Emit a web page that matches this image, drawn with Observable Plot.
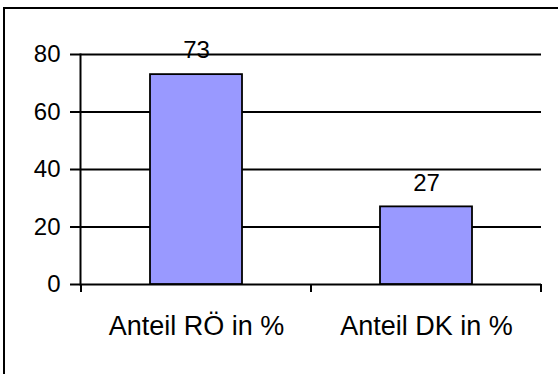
<!DOCTYPE html>
<html>
<head>
<meta charset="utf-8">
<script src="https://cdn.jsdelivr.net/npm/d3@7"></script>
<script src="https://cdn.jsdelivr.net/npm/@observablehq/plot@0.6"></script>
<style>
  html, body { margin: 0; padding: 0; background: #fff; overflow: hidden; }
  #wrap { position: relative; width: 558px; height: 374px; }
  #border { position: absolute; left: 3px; top: 7px; width: 600px; height: 400px; border-left: 2px solid #000; border-top: 2px solid #000; box-sizing: border-box; pointer-events: none; }
  svg { font-family: "Liberation Sans", Arial, sans-serif; }
</style>
</head>
<body>
<div id="wrap"><div id="border"></div></div>
<script>
const categories = ["Anteil RÖ in %", "Anteil DK in %"];
const values = [73, 27];
const yTicks = [0, 20, 40, 60, 80];

const data = categories.map((c, i) => ({category: c, value: values[i]}));

const plot = Plot.plot({
  width: 558,
  height: 374,
  marginLeft: 80,
  marginRight: 17,
  marginTop: 54,
  marginBottom: 90,
  style: {fontFamily: "Liberation Sans, Arial, sans-serif", color: "#000", background: "transparent"},
  x: {domain: categories, paddingInner: 0.6, paddingOuter: 0.3, label: null},
  y: {domain: [0, 80], ticks: yTicks, label: null},
  marks: [
    Plot.ruleY(yTicks, {y: d => d, stroke: "#000", strokeWidth: 2}),
    Plot.axisY({ticks: yTicks, tickSize: 10, tickPadding: 10, fontSize: 24, strokeWidth: 2, label: null}),
    Plot.rectY(data, {x: "category", y: "value", fill: "#9999FF", stroke: "#000", strokeWidth: 1.8}),
    Plot.text(data, {x: "category", y: "value", text: d => String(d.value), dy: -24, fontSize: 24, fill: "#000"}),
    Plot.axisX({tickSize: 0, tickPadding: 31, fontSize: 27, label: null}),
    Plot.frame({anchor: "left", stroke: "#000", strokeWidth: 2})
  ]
});

// category boundary ticks (Excel style), computed from Plot's band scale
const xs = plot.scale("x");
const ys = plot.scale("y");
const step = xs.step;
const y0 = ys.apply(0);
const bounds = [];
categories.forEach((c, i) => {
  const center = xs.apply(c) + xs.bandwidth / 2;
  if (i === 0) bounds.push(center - step / 2);
  bounds.push(center + step / 2);
});
const svg = d3.select(plot);
svg.append("g")
  .selectAll("line")
  .data(bounds)
  .join("line")
  .attr("x1", d => d).attr("x2", d => d)
  .attr("y1", y0).attr("y2", y0 + 8)
  .attr("stroke", "#000").attr("stroke-width", 2);

document.getElementById("wrap").prepend(plot);
</script>
</body>
</html>
